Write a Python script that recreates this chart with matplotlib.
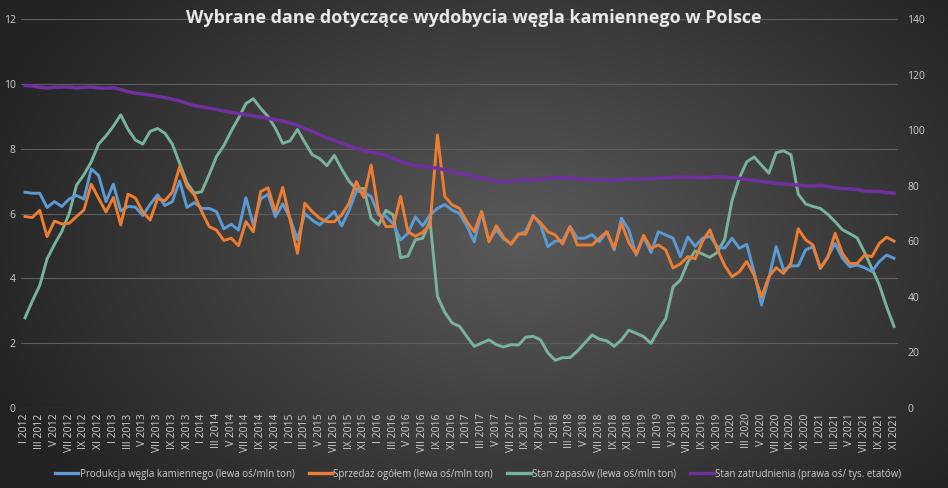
import numpy as np
import matplotlib
matplotlib.use("Agg")
import matplotlib.pyplot as plt
from matplotlib.lines import Line2D

# ---------------- data ----------------
roman = ["I", "II", "III", "IV", "V", "VI", "VII", "VIII", "IX", "X", "XI", "XII"]
years = list(range(2012, 2022))
months = [f"{r} {y}" for y in years for r in roman][:119]   # I 2012 .. XI 2021

produkcja = [
    6.66, 6.63, 6.63, 6.19, 6.37, 6.22, 6.45, 6.56, 6.45, 7.38,
    7.18, 6.37, 6.91, 6.08, 6.22, 6.20, 5.94, 6.29, 6.58, 6.25,
    6.37, 7.01, 6.19, 6.34, 6.16, 6.16, 6.06, 5.53, 5.67, 5.49,
    6.49, 5.65, 6.45, 6.60, 5.90, 6.30, 5.85, 5.20, 6.00, 5.80,
    5.65, 5.85, 6.06, 5.62, 6.10, 6.70, 6.65, 6.53, 5.96, 5.92,
    5.68, 5.19, 5.39, 5.90, 5.62, 5.96, 6.16, 6.28, 6.11, 6.00,
    5.62, 5.13, 6.06, 5.17, 5.50, 5.22, 5.08, 5.35, 5.45, 5.95,
    5.66, 4.98, 5.15, 5.16, 5.60, 5.24, 5.24, 5.35, 5.13, 5.44,
    4.88, 5.86, 5.49, 4.72, 5.29, 4.80, 5.44, 5.34, 5.24, 4.67,
    5.28, 4.99, 5.24, 5.30, 4.98, 4.93, 5.24, 4.93, 5.05, 4.20,
    3.18, 4.00, 4.98, 4.26, 4.38, 4.39, 4.88, 4.98, 4.31, 4.67,
    5.08, 4.62, 4.36, 4.41, 4.33, 4.21, 4.52, 4.72, 4.62,
]
sprzedaz = [
    5.91, 5.88, 6.10, 5.29, 5.77, 5.68, 5.70, 5.91, 6.11, 6.91,
    6.47, 6.05, 6.50, 5.65, 6.60, 6.48, 6.05, 5.80, 6.46, 6.40,
    6.66, 7.45, 6.84, 6.58, 6.06, 5.60, 5.49, 5.17, 5.24, 5.01,
    5.75, 5.44, 6.68, 6.80, 6.06, 6.81, 5.80, 4.77, 6.32, 6.06,
    5.86, 5.75, 5.75, 5.96, 6.32, 6.99, 6.50, 7.50, 6.06, 5.60,
    5.60, 6.53, 5.44, 5.30, 5.42, 5.65, 8.43, 6.53, 6.27, 6.16,
    5.75, 5.44, 6.06, 5.13, 5.63, 5.26, 5.05, 5.37, 5.37, 5.92,
    5.72, 5.44, 5.34, 5.06, 5.60, 5.03, 5.03, 5.03, 5.24, 5.44,
    4.93, 5.70, 5.10, 4.75, 5.33, 4.93, 5.03, 4.88, 4.32, 4.45,
    4.67, 4.60, 5.15, 5.50, 4.90, 4.40, 4.05, 4.20, 4.52, 4.10,
    3.43, 4.05, 4.33, 4.15, 4.46, 5.53, 5.19, 5.03, 4.31, 4.64,
    5.39, 4.77, 4.46, 4.46, 4.72, 4.67, 5.08, 5.27, 5.15,
]
zapasy = [
    2.78, 3.30, 3.78, 4.60, 5.05, 5.45, 6.00, 6.88, 7.20, 7.60,
    8.15, 8.40, 8.70, 9.05, 8.60, 8.27, 8.15, 8.54, 8.63, 8.48,
    8.15, 7.55, 6.95, 6.63, 6.68, 7.20, 7.76, 8.10, 8.55, 8.95,
    9.40, 9.55, 9.25, 9.00, 8.64, 8.17, 8.25, 8.60, 8.20, 7.82,
    7.70, 7.48, 7.80, 7.38, 7.00, 6.75, 6.78, 5.85, 5.65, 6.10,
    5.96, 4.64, 4.69, 5.19, 5.24, 5.78, 3.45, 2.95, 2.62, 2.52,
    2.20, 1.90, 2.00, 2.10, 1.95, 1.88, 1.95, 1.94, 2.18, 2.21,
    2.10, 1.70, 1.47, 1.55, 1.55, 1.75, 2.00, 2.25, 2.12, 2.07,
    1.90, 2.10, 2.40, 2.30, 2.20, 1.99, 2.40, 2.75, 3.74, 3.95,
    4.50, 4.85, 4.75, 4.65, 4.80, 5.20, 6.40, 7.10, 7.60, 7.75,
    7.50, 7.25, 7.88, 7.94, 7.82, 6.60, 6.30, 6.22, 6.16, 5.98,
    5.75, 5.50, 5.38, 5.25, 4.80, 4.30, 3.80, 3.12, 2.51,
]
zatrudnienie = [
    116.2, 116.0, 115.5, 115.3, 115.5, 115.6, 115.6, 115.3, 115.5, 115.6,
    115.3, 115.2, 115.4, 114.7, 114.0, 113.4, 113.1, 112.7, 112.3, 111.8,
    111.2, 110.6, 109.7, 108.9, 108.5, 108.0, 107.5, 107.0, 106.5, 106.1,
    105.7, 105.2, 104.8, 104.3, 103.8, 103.3, 102.6, 101.9, 100.6, 99.6,
    98.4, 97.3, 96.3, 95.3, 94.3, 93.5, 92.8, 92.1, 91.6, 91.0,
    89.9, 88.9, 88.0, 87.2, 87.0, 86.7, 86.3, 85.8, 85.1, 84.5,
    84.0, 83.4, 82.8, 82.2, 81.7, 81.5, 81.6, 82.1, 82.2, 82.2,
    82.4, 82.6, 82.9, 83.0, 82.7, 82.5, 82.4, 82.3, 82.2, 82.1,
    82.0, 82.3, 82.4, 82.5, 82.5, 82.6, 82.8, 82.9, 83.0, 83.2,
    83.1, 83.1, 83.0, 83.1, 83.3, 83.1, 83.0, 82.7, 82.2, 81.9,
    81.6, 81.2, 80.9, 80.7, 80.5, 80.3, 80.0, 79.9, 80.2, 79.8,
    79.3, 79.0, 78.9, 78.7, 78.1, 78.0, 78.0, 77.6, 77.4,
]

left_ticks = [0, 2, 4, 6, 8, 10, 12]
right_ticks = [0, 20, 40, 60, 80, 100, 120, 140]

title = "Wybrane dane dotyczące wydobycia węgla kamiennego w Polsce"
labels = [
    "Produkcja węgla kamiennego (lewa oś/mln ton)",
    "Sprzedaż ogółem (lewa oś/mln ton)",
    "Stan zapasów (lewa oś/mln ton)",
    "Stan zatrudnienia (prawa oś/ tys. etatów)",
]

# ---------------- style ----------------
C_BLUE = "#5b9bd5"
C_ORANGE = "#ed7d31"
C_GREEN = "#7ab39c"
C_PURPLE = "#7030a0"
TXT = "#d0d0d0"
FONT = ["Open Sans", "DejaVu Sans"]
plt.rcParams["font.family"] = FONT

W, H = 948, 488
fig = plt.figure(figsize=(W / 100, H / 100), dpi=100)

# radial gradient background
bg = fig.add_axes([0, 0, 1, 1], zorder=-10)
yy, xx = np.mgrid[0:H, 0:W]
r = np.sqrt(((xx - 520) / 560.0) ** 2 + ((yy - 240) / 380.0) ** 2)
r = np.clip(r, 0, 1)
center = np.array([90, 90, 90]) / 255.0
edge = np.array([36, 36, 36]) / 255.0
img = center[None, None, :] * (1 - r[..., None]) + edge[None, None, :] * r[..., None]
bg.imshow(img, aspect="auto", extent=[0, 1, 0, 1], origin="upper")
bg.axis("off")

left = 21.3 / W
right = 897.7 / W
bottom = (H - 407.8) / H
top = (H - 19.4) / H
ax = fig.add_axes([left, bottom, right - left, top - bottom])
ax.set_facecolor("none")
x = np.arange(len(months))

ax.plot(x, produkcja, color=C_BLUE, lw=2.1, solid_joinstyle="round", zorder=3)
ax.plot(x, sprzedaz, color=C_ORANGE, lw=2.1, solid_joinstyle="round", zorder=4)
ax.plot(x, zapasy, color=C_GREEN, lw=2.1, solid_joinstyle="round", zorder=2)

ax.set_xlim(-0.5, len(months) - 0.5)
ax.set_ylim(0, 12)
ax.set_yticks(left_ticks)
ax.set_yticklabels([str(t) for t in left_ticks])
ax.grid(axis="y", color="#5e5e5e", lw=0.8)
ax.set_axisbelow(True)
ax.set_xticks(x[::2])
ax.set_xticklabels(months[::2], rotation=90, fontsize=7.5, color=TXT)
ax.tick_params(axis="both", length=0, colors=TXT, labelsize=7.5)
ax.tick_params(axis="x", pad=4)
ax.tick_params(axis="y", pad=4)
for s in ax.spines.values():
    s.set_visible(False)

ax2 = ax.twinx()
ax2.plot(x, zatrudnienie, color=C_PURPLE, lw=2.5, solid_joinstyle="round")
ax2.set_ylim(0, 140)
ax2.set_yticks(right_ticks)
ax2.set_yticklabels([str(t) for t in right_ticks])
ax2.tick_params(axis="y", length=0, colors=TXT, labelsize=7.5, pad=7)
for s in ax2.spines.values():
    s.set_visible(False)

t = fig.text(0.5, 1 - 18 / H, title, ha="center", va="center", fontsize=13,
             fontweight="bold", color="#e8e8e8")

handles = [Line2D([0], [0], color=c, lw=2.4) for c in (C_BLUE, C_ORANGE, C_GREEN, C_PURPLE)]
fig.legend(handles, labels, loc="center", bbox_to_anchor=(478 / W, 1 - 474 / H), ncol=4,
           frameon=False, fontsize=7, labelcolor=TXT, handlelength=2.4,
           handletextpad=0.15, columnspacing=1.45)

fig.savefig("out.png", dpi=100)
